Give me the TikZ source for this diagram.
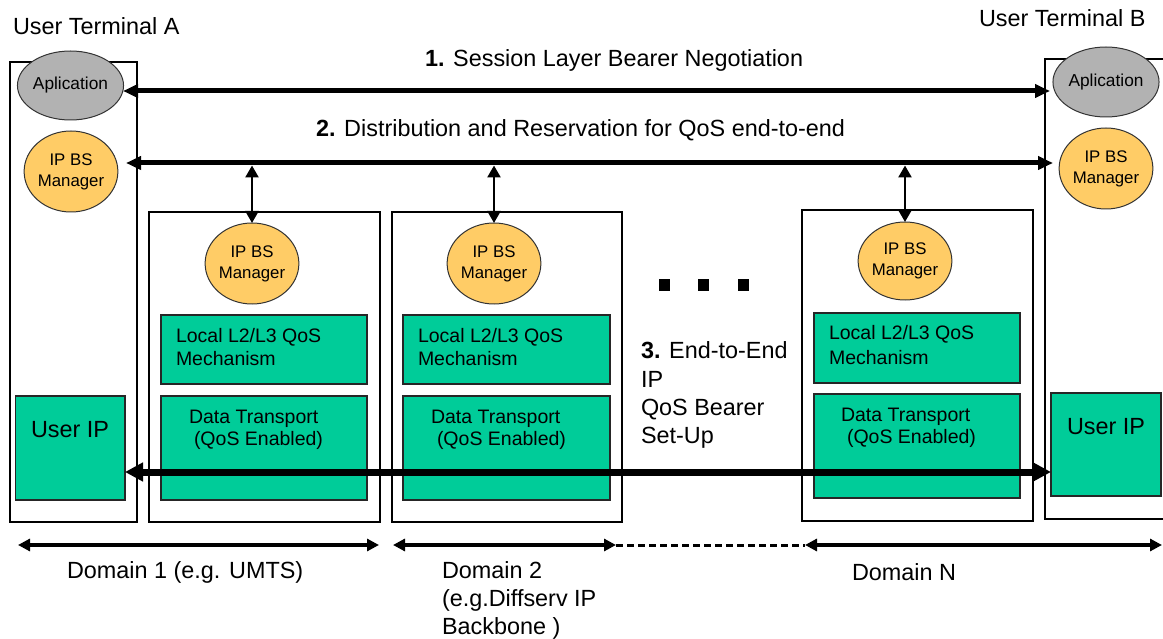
\documentclass[tikz,border=0pt]{standalone}
\usepackage{fontspec}
\setmainfont{Liberation Sans}
\usetikzlibrary{arrows.meta,shapes.geometric}

\definecolor{qosgreen}{RGB}{0,204,153}
\definecolor{mgrfill}{RGB}{255,204,102}
\definecolor{appfill}{RGB}{178,178,178}

\begin{document}
\begin{tikzpicture}[x=1pt,y=-1pt,
  every node/.style={inner sep=0pt, outer sep=0pt},
  frame/.style={draw=black, line width=1.2pt, anchor=north west},
  qbox/.style={draw=black!85, line width=1.3pt, fill=qosgreen, anchor=north west},
  mgr/.style={ellipse, draw=black!80, line width=1pt, fill=mgrfill,
    minimum width=86pt, minimum height=81pt, align=center,
    font=\fontsize{16.8}{21}\selectfont},
  app/.style={ellipse, draw=black!80, line width=1pt, fill=appfill,
    minimum width=85pt, minimum height=69pt, font=\fontsize{17.3}{20}\selectfont},
  lbl/.style={font=\fontsize{23.4}{28}\selectfont, anchor=base west},
  btxt/.style={font=\fontsize{19.5}{23}\selectfont, anchor=base west},
  busarrow/.style={line width=5pt, {Triangle[length=15pt,width=13pt]}-{Triangle[length=15pt,width=13pt]}},
  vlink/.style={line width=2.6pt, {Triangle[length=12pt,width=13pt]}-{Triangle[length=12pt,width=13pt]}},
  bearer/.style={line width=7pt, {Triangle[length=18pt,width=18pt]}-{Triangle[length=18pt,width=18pt]}},
  span/.style={line width=3.5pt, {Triangle[length=12pt,width=12pt]}-{Triangle[length=12pt,width=12pt]}},
  gapline/.style={line width=3pt, dash pattern=on 7pt off 4pt},
  dotsq/.style={fill=black, minimum width=11pt, minimum height=12pt}
]
\path[use as bounding box] (0,0) rectangle (1163,639);
\clip (0,0) rectangle (1163,639);

% terminals and domains
\node[frame, minimum width=127pt, minimum height=460pt] (termA) at (10,62) {};
\node[frame, minimum width=140pt, minimum height=460pt] (termB) at (1045,59) {};
\node[frame, minimum width=231pt, minimum height=310pt] (dom1) at (149,212) {};
\node[frame, minimum width=230pt, minimum height=310pt] (dom2) at (392,212) {};
\node[frame, minimum width=231pt, minimum height=311pt] (domN) at (802,210) {};

% titles
\node[lbl] (titleA) at (13,35) {User Terminal A};
\node[lbl] (titleB) at (979,27) {User Terminal B};

% applications and bearer service managers
\node[app] (appA) at (70.5,85.5) {Aplication};
\node[app, minimum width=86pt, minimum height=70pt] (appB) at (1106,82) {Aplication};
\node[mgr] (mgrA) at (71,171.5) {IP BS\\Manager};
\node[mgr] (mgrB) at (1106,168.5) {IP BS\\Manager};
\node[mgr] (mgr1) at (252,263.5) {IP BS\\Manager};
\node[mgr] (mgr2) at (494,263.5) {IP BS\\Manager};
\node[mgr, minimum width=84pt, minimum height=78pt] (mgrN) at (905,261) {IP BS\\Manager};

% QoS mechanism and transport blocks
\node[qbox, minimum width=206pt, minimum height=69pt] (loc1) at (161,315) {};
\node[qbox, minimum width=206pt, minimum height=104pt] (dat1) at (161,396) {};
\node[qbox, minimum width=207pt, minimum height=69pt] (loc2) at (403,315) {};
\node[qbox, minimum width=207pt, minimum height=104pt] (dat2) at (403,396) {};
\node[qbox, minimum width=206pt, minimum height=70pt] (locN) at (814,313) {};
\node[qbox, minimum width=206pt, minimum height=104pt] (datN) at (814,394) {};
\node[qbox, minimum width=109.5pt, minimum height=104pt] (uipA) at (15.5,396) {};
\node[qbox, minimum width=110pt, minimum height=103pt] (uipB) at (1051,393) {};

\node[btxt] (loc1a) at (176,342) {Local L2/L3 QoS};
\node[btxt] (loc1b) at (176,366) {Mechanism};
\node[btxt] (loc2a) at (418,342) {Local L2/L3 QoS};
\node[btxt] (loc2b) at (418,366) {Mechanism};
\node[btxt] (locNa) at (829,340) {Local L2/L3 QoS};
\node[btxt] (locNb) at (829,364) {Mechanism};
\node[btxt] (dat1a) at (189,423) {Data Transport};
\node[btxt] (dat1b) at (194,445) {(QoS Enabled)};
\node[btxt] (dat2a) at (431,423) {Data Transport};
\node[btxt] (dat2b) at (437,445) {(QoS Enabled)};
\node[btxt] (datNa) at (841,421) {Data Transport};
\node[btxt] (datNb) at (847,443) {(QoS Enabled)};
\node[lbl] (uipAt) at (31,437) {User IP};
\node[lbl] (uipBt) at (1067,434) {User IP};

% 1. session layer negotiation
\coordinate (s1L) at (123,91);
\coordinate (s1R) at (1050,91);
\draw[busarrow] (s1L) -- (s1R);
\node[lbl] (step1) at (425,67) {\textbf{1.} Session Layer Bearer Negotiation};

% 2. distribution and reservation
\coordinate (s2L) at (126,163);
\coordinate (s2R) at (1053,163);
\coordinate (busbot) at (0,165.5);
\draw[busarrow] (s2L) -- (s2R);
\node[lbl, anchor=base east] (step2) at (845,137) {\textbf{2.} Distribution and Reservation for QoS end-to-end};
\draw[vlink] (busbot -| mgr1.north) -- (mgr1.north);
\draw[vlink] (busbot -| mgr2.north) -- (mgr2.north);
\draw[vlink] (busbot -| mgrN.north) -- (mgrN.north);

% further domains
\node[dotsq] (dot1) at (664,285) {};
\node[dotsq] (dot2) at (703,285) {};
\node[dotsq] (dot3) at (743,285) {};

% 3. end-to-end bearer
\node[lbl] (step3a) at (641,359) {\textbf{3.} End-to-End};
\node[lbl] (step3b) at (641,387) {IP};
\node[lbl] (step3c) at (641,415) {QoS Bearer};
\node[lbl] (step3d) at (641,443) {Set-Up};
\draw[bearer] (uipA.east |- 0,472) -- (uipB.west |- 0,472);

% domain extents
\coordinate (d1L) at (18,545);
\coordinate (d1R) at (379,545);
\coordinate (d2L) at (393,545);
\coordinate (d2R) at (616,545);
\coordinate (dNL) at (805,545);
\coordinate (dNR) at (1162,545);
\draw[span] (d1L) -- (d1R);
\draw[span] (d2L) -- (d2R);
\draw[gapline] (d2R) -- (dNL);
\draw[span] (dNL) -- (dNR);

\node[lbl] (dl1) at (67,578) {Domain 1 (e.g. UMTS)};
\node[lbl] (dl2a) at (442,578) {Domain 2};
\node[lbl] (dl2b) at (442,606) {(e.g.Diffserv IP};
\node[lbl] (dl2c) at (442,634) {Backbone )};
\node[lbl] (dlN) at (852,580) {Domain N};
\end{tikzpicture}
\end{document}
